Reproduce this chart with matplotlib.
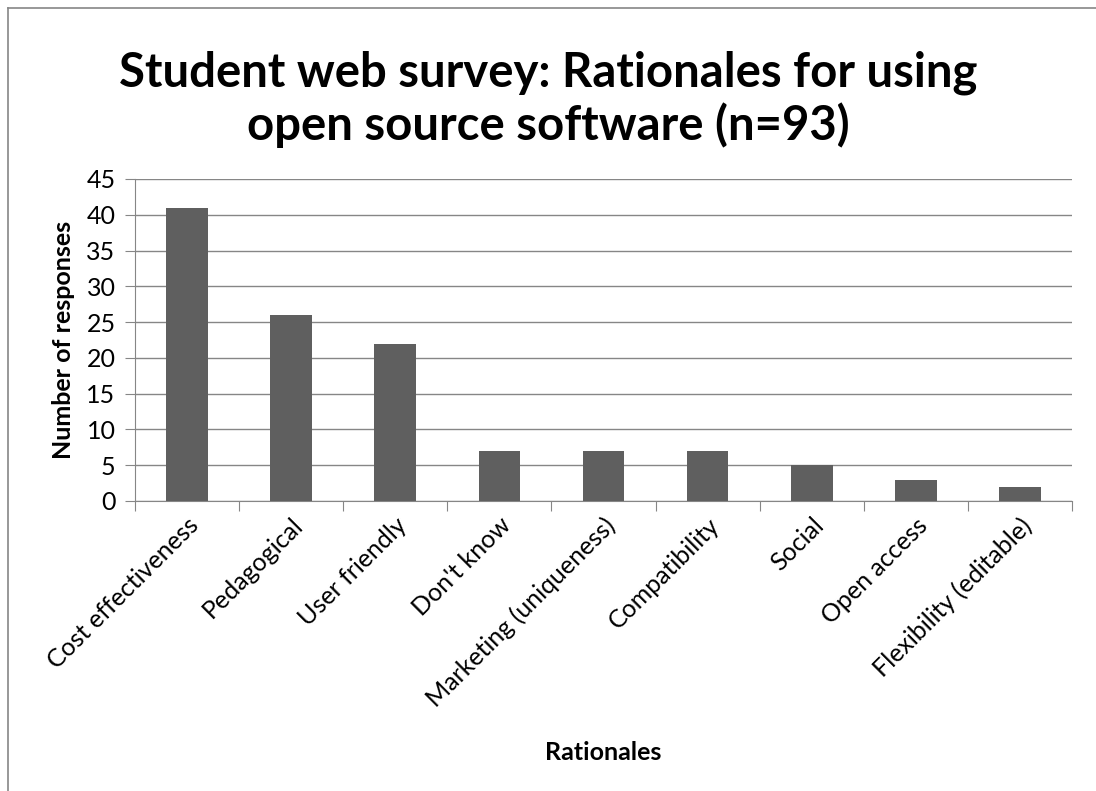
import matplotlib.pyplot as plt
from matplotlib.lines import Line2D

plt.rcParams['font.family'] = ['Lato', 'DejaVu Sans']

rationales = ['Cost effectiveness', 'Pedagogical', 'User friendly', "Don't know",
              'Marketing (uniqueness)', 'Compatibility', 'Social', 'Open access',
              'Flexibility (editable)']
responses = [41, 26, 22, 7, 7, 7, 5, 3, 2]
y_ticks = list(range(0, 50, 5))

W, H = 1096, 791
fig = plt.figure(figsize=(W / 100, H / 100), dpi=100)
ax = fig.add_axes([135 / W, 1 - 501 / H, (1072 - 135) / W, (501 - 179) / H])

grey = '#868686'
x = range(len(rationales))
ax.bar(x, responses, width=0.4, color='#5f5f5f', zorder=3)

ax.set_xlim(-0.5, len(rationales) - 0.5)
ax.set_ylim(0, 45)
ax.set_yticks(y_ticks)
ax.yaxis.grid(True, color=grey, linewidth=1)
ax.set_axisbelow(True)

# category ticks sit on the boundaries between bars
ax.set_xticks([i - 0.5 for i in range(len(rationales) + 1)], minor=False)
ax.set_xticklabels([])
ax.set_xticks(list(x), minor=True)
ax.set_xticklabels(rationales, minor=True, rotation=45, ha='right',
                   rotation_mode='anchor', fontsize=18)
ax.tick_params(axis='x', which='minor', length=0, pad=9)
ax.tick_params(axis='x', which='major', length=7, color=grey, direction='out')
ax.tick_params(axis='y', length=7, color=grey, labelsize=18, pad=7)

for s in ['top', 'right']:
    ax.spines[s].set_visible(False)
for s in ['left', 'bottom']:
    ax.spines[s].set_color(grey)

ax.set_ylabel('Number of responses', fontsize=18, fontweight='bold', labelpad=8)
ax.set_xlabel('Rationales', fontsize=18, fontweight='bold')
ax.xaxis.set_label_coords(0.5, -(741 - 501) / (501 - 179))

fig.text(548 / W, 1 - 99 / H, 'Student web survey: Rationales for using\nopen source software (n=93)',
         ha='center', va='center', fontsize=34, fontweight='bold', linespacing=1.2)

# outer chart frame
fig.add_artist(Line2D([8 / W, 8 / W], [0, 1 - 8 / H], color=grey, lw=1.2, transform=fig.transFigure))
fig.add_artist(Line2D([8 / W, 1], [1 - 8 / H, 1 - 8 / H], color=grey, lw=1.2, transform=fig.transFigure))

fig.savefig('out.png', dpi=100)
